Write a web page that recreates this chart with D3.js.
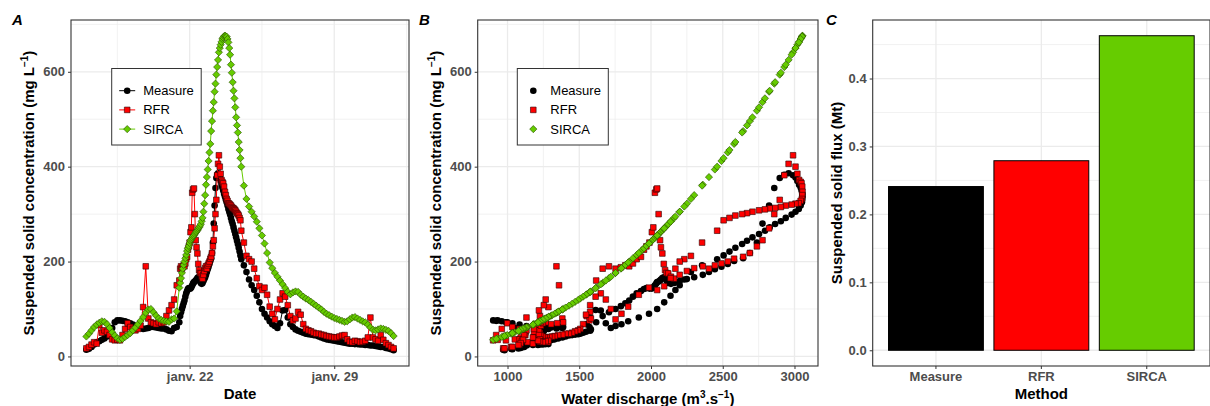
<!DOCTYPE html>
<html>
<head>
<meta charset="utf-8">
<script src="https://cdn.jsdelivr.net/npm/d3@7"></script>
<style>
body { margin: 0; background: #fff; }
</style>
</head>
<body>
<svg id="chart"></svg>
<script>
// sampling: every 3 h from 17 Jan 00:00, hourly around the flood peak (h 108-180), then every 3 h again
var hours = d3.range(0, 108, 3).concat(d3.range(108, 181, 1), d3.range(183, 360, 3));

var measure = [14,16,20,25,30,32,35,38,42,48, 60,72,76,76,75,74,72,70,67,64,
               62,60,58,59,60,62,62,61,60,59, 59,57,54,53,60,62,
               72,85,93,100,106,112,118,126,133,138, 142,144,143,143,146,150,154,157,158,160,
               162,165,167,166,160,155,153,155,159,163, 167,172,178,184,189,195,201,207,218,240,
               280,318,355,376,383,386,382,377,370,362, 356,350,343,337,331,325,318,311,305,299,
               292,285,279,272,265,258,251,244,237,229, 221,213,205,
               192,178,162,150,140,128,114,100,90, 82,74,68,64,60,70,97,98,82,68,
               62,57,54,52,50,48,47,46,45,44, 42,40,38,36,35,34,33,32,31,30,
               29,28,27,27,26,26,25,25,24,24, 23,23,22,21,20,20,18,17,15,13];

var rfr = [17,20,25,30,27,66,50,55,52,45, 36,34,35,34,45,58,70,62,58,55,
           58,65,104,190,80,72,70,68,72,70, 72,85,97,108,120,150,
           160,185,190,185,188,192,190,196,205,210, 225,232,240,262,272,345,352,354,300,245,
           230,217,195,182,176,175,168,164,172,180, 186,190,185,192,196,200,206,210,218,232,
           245,270,300,330,382,406,424,400,385,372, 368,365,358,347,340,332,328,323,322,320,
           318,315,313,312,310,308,305,302,300,297, 292,287,265,
           240,212,205,200,185,165,148,140,145, 130,105,90,78,100,120,133,126,108,85,
           76,80,94,88,68,58,55,53,50,48, 48,46,45,43,42,41,40,40,42,44,
           45,36,31,30,33,32,30,31,33,40, 82,40,36,33,45,35,28,24,20,17];

var sirca = [42,48,55,62,67,71,74,73,68,60, 51,44,38,35,37,41,45,49,55,61,
             68,75,83,92,99,100,93,86,80,77, 75,74,73,78,80,95,
             145,155,165,176,185,193,200,207,214,222, 228,233,239,244,247,250,253,255,258,261,
             263,266,269,272,275,279,285,292,305,322, 340,362,378,394,412,430,448,475,496,518,
             536,558,575,594,610,625,641,650,657,663, 669,672,675,676,675,674,669,662,650,636,
             615,598,578,560,544,525,504,487,472,452, 435,418,400,
             360,332,316,305,295,284,270,255,238, 218,198,186,176,168,160,152,144,136,131,
             135,137,136,130,126,122,119,115,111,107, 103,99,94,90,87,84,81,79,77,75,
             73,74,78,82,83,80,77,74,72,67, 61,56,55,57,59,58,56,54,49,43];

var discharge = [970,1025,1084,1140,1177,1205,1226,1219,1184,1124, 1051,989,931,900,921,960,998,1034,1084,1132,
                 1184,1233,1285,1341,1382,1388,1347,1304,1266,1246, 1233,1226,1219,1253,1266,1359,
                 1618,1663,1707,1753,1790,1821,1848,1874,1900,1930, 1951,1968,1989,2006,2016,2027,2037,2043,2053,2063,
                 2069,2079,2089,2098,2108,2120,2139,2161,2200,2250, 2301,2361,2404,2445,2491,2535,2579,2642,2689,2738,
                 2777,2823,2859,2897,2929,2959,2990,3007,3020,3032, 3043,3049,3054,3056,3054,3052,3043,3030,3007,2980,
                 2939,2905,2865,2827,2794,2753,2707,2669,2635,2588, 2547,2506,2461,
                 2356,2278,2232,2200,2170,2136,2092,2043,1986, 1915,1841,1794,1753,1720,1685,1650,1614,1576,1552,
                 1571,1581,1576,1547,1527,1507,1492,1471,1450,1428, 1405,1382,1353,1329,1311,1292,1273,1260,1246,1233,
                 1219,1226,1253,1279,1285,1266,1246,1226,1212,1177, 1132,1092,1084,1100,1116,1108,1092,1076,1034,979];

var methods = ["Measure", "RFR", "SIRCA"];
var flux = [0.241, 0.279, 0.463];

var dateTicks = ["2018-01-22", "2018-01-29"];
var concTicks = [0, 200, 400, 600];
var qTicks = [1000, 1500, 2000, 2500, 3000];
var fluxTicks = [0, 0.1, 0.2, 0.3, 0.4];

var colors = { Measure: "#000000", RFR: "#ff0000", SIRCA: "#66cc00" };
var FONT = "'Liberation Sans', Arial, sans-serif";

var startTime = new Date(2018, 0, 17, 0, 0);
var times = hours.map(function(h) { return d3.timeHour.offset(startTime, h); });

var fr = d3.timeFormatLocale({
  dateTime: "%A %e %B %Y à %X", date: "%d/%m/%Y", time: "%H:%M:%S", periods: ["AM", "PM"],
  days: ["dimanche","lundi","mardi","mercredi","jeudi","vendredi","samedi"],
  shortDays: ["dim.","lun.","mar.","mer.","jeu.","ven.","sam."],
  months: ["janvier","février","mars","avril","mai","juin","juillet","août","septembre","octobre","novembre","décembre"],
  shortMonths: ["janv.","févr.","mars","avr.","mai","juin","juil.","août","sept.","oct.","nov.","déc."]
});
var frDate = fr.format("%b %d");

var svg = d3.select("#chart").attr("width", 1210).attr("height", 406);
svg.append("rect").attr("width", 1210).attr("height", 406).attr("fill", "#fff");

var pTop = 20, pBottom = 366;

// ggplot style 5% expansion
function padded(ext) {
  var p = (ext[1] - ext[0]) * 0.05;
  return [+ext[0] - p, +ext[1] + p];
}
function mids(ticks) {
  var out = [], step = ticks[1] - ticks[0];
  out.push(ticks[0] - step / 2);
  for (var i = 0; i < ticks.length; i++) out.push(+ticks[i] + step / 2);
  return out;
}

function drawGrid(g, area, xs, ys, xMajor, xMinor, yMajor, yMinor) {
  var inX = function(v) { var p = xs(v); return p > area.left && p < area.right; };
  var inY = function(v) { var p = ys(v); return p > area.top && p < area.bottom; };
  g.selectAll(null).data(yMinor.filter(inY)).enter().append("line")
    .attr("x1", area.left).attr("x2", area.right)
    .attr("y1", ys).attr("y2", ys)
    .attr("stroke", "#ebebeb").attr("stroke-width", 0.7);
  g.selectAll(null).data(xMinor.filter(inX)).enter().append("line")
    .attr("y1", area.top).attr("y2", area.bottom)
    .attr("x1", xs).attr("x2", xs)
    .attr("stroke", "#ebebeb").attr("stroke-width", 0.7);
  g.selectAll(null).data(yMajor).enter().append("line")
    .attr("x1", area.left).attr("x2", area.right)
    .attr("y1", ys).attr("y2", ys)
    .attr("stroke", "#ebebeb").attr("stroke-width", 1.3);
  g.selectAll(null).data(xMajor).enter().append("line")
    .attr("y1", area.top).attr("y2", area.bottom)
    .attr("x1", xs).attr("x2", xs)
    .attr("stroke", "#ebebeb").attr("stroke-width", 1.3);
}

function drawBorder(area) {
  svg.append("rect")
    .attr("x", area.left).attr("y", area.top)
    .attr("width", area.right - area.left).attr("height", area.bottom - area.top)
    .attr("fill", "none").attr("stroke", "#333333").attr("stroke-width", 1.1);
}

function styleAxis(g) {
  g.attr("font-family", FONT).attr("font-size", 13);
  g.select(".domain").remove();
  g.selectAll(".tick line").attr("stroke", "#333333").attr("stroke-width", 1);
  g.selectAll(".tick text").attr("fill", "#4d4d4d").attr("font-weight", "bold");
}

function addParts(t, parts) {
  var raised = false;
  parts.forEach(function(p) {
    if (p.sup) {
      t.append("tspan").attr("dy", raised ? 0 : -6).attr("font-size", 10).text(p.sup);
      raised = true;
    } else {
      t.append("tspan").attr("dy", raised ? 6 : 0).text(p.text);
      raised = false;
    }
  });
}
function yTitle(x, parts) {
  var t = svg.append("text")
    .attr("transform", "translate(" + x + "," + ((pTop + pBottom) / 2) + ") rotate(-90)")
    .attr("text-anchor", "middle").attr("font-family", FONT)
    .attr("font-size", 15).attr("font-weight", "bold").attr("fill", "#000");
  addParts(t, parts);
}
function xTitle(x, y, parts) {
  var t = svg.append("text").attr("x", x).attr("y", y)
    .attr("text-anchor", "middle").attr("font-family", FONT)
    .attr("font-size", 15).attr("font-weight", "bold").attr("fill", "#000");
  addParts(t, parts);
}
function panelLetter(x, s) {
  svg.append("text").attr("x", x).attr("y", 25).attr("font-family", FONT)
    .attr("font-size", 15).attr("font-weight", "bold").attr("font-style", "italic").text(s);
}

var circle = d3.symbol().type(d3.symbolCircle).size(34)();
var square = d3.symbol().type(d3.symbolSquare).size(32)();
var diamond = d3.symbol().type(d3.symbolSquare).size(26)();

function marks(g, pts, kind) {
  var path = kind === "Measure" ? circle : kind === "RFR" ? square : diamond;
  var rot = kind === "SIRCA" ? " rotate(45)" : "";
  var sel = g.selectAll(null).data(pts).enter().append("path")
    .attr("d", path)
    .attr("transform", function(d) { return "translate(" + d[0] + "," + d[1] + ")" + rot; })
    .attr("fill", colors[kind]);
  if (kind === "RFR") sel.attr("stroke", "#2a0000").attr("stroke-width", 0.6);
  if (kind === "SIRCA") sel.attr("stroke", "#2b5200").attr("stroke-width", 0.6);
}

var series = [["Measure", measure], ["RFR", rfr], ["SIRCA", sirca]];
var concDomain = padded([d3.min([d3.min(measure), d3.min(rfr), d3.min(sirca)]),
                         d3.max([d3.max(measure), d3.max(rfr), d3.max(sirca)])]);

// ---------- Panel A : time series ----------
var areaA = { left: 71, right: 409, top: pTop, bottom: pBottom };
var xA = d3.scaleTime().domain(padded(d3.extent(times))).range([areaA.left, areaA.right]);
var yC = d3.scaleLinear().domain(concDomain).range([areaA.bottom, areaA.top]);
var tickDatesA = dateTicks.map(d3.timeParse("%Y-%m-%d"));
var minorDatesA = mids(tickDatesA.map(Number)).map(function(v) { return new Date(v); });

drawGrid(svg.append("g"), areaA, xA, yC, tickDatesA, minorDatesA, concTicks, mids(concTicks));

var gA = svg.append("g");
series.forEach(function(s) {
  var line = d3.line().x(function(d, i) { return xA(times[i]); }).y(function(d) { return yC(d); });
  gA.append("path").datum(s[1]).attr("d", line).attr("fill", "none")
    .attr("stroke", colors[s[0]]).attr("stroke-width", 1);
  marks(gA, s[1].map(function(v, i) { return [xA(times[i]), yC(v)]; }), s[0]);
});
drawBorder(areaA);

svg.append("g").attr("transform", "translate(0," + areaA.bottom + ")")
  .call(d3.axisBottom(xA).tickValues(tickDatesA).tickFormat(frDate).tickSize(3).tickPadding(3))
  .call(styleAxis);
svg.append("g").attr("transform", "translate(" + areaA.left + ",0)")
  .call(d3.axisLeft(yC).tickValues(concTicks).tickSize(3).tickPadding(3))
  .call(styleAxis);

yTitle(34, [{ text: "Suspended solid concentration (mg L" }, { sup: "\u22121" }, { text: ")" }]);
xTitle((areaA.left + areaA.right) / 2, 399, [{ text: "Date" }]);
panelLetter(12, "A");

function legend(x0, withLine) {
  var lg = svg.append("g");
  lg.append("rect").attr("x", x0).attr("y", 68.5).attr("width", withLine ? 89.5 : 91)
    .attr("height", 76.5).attr("fill", "#fff").attr("stroke", "#333333").attr("stroke-width", 1);
  series.forEach(function(s, i) {
    var cy = 90.7 + i * 19.2;
    var kx = withLine ? x0 + 15.5 : x0 + 16;
    if (withLine) {
      lg.append("line").attr("x1", x0 + 7.5).attr("x2", x0 + 23.5).attr("y1", cy).attr("y2", cy)
        .attr("stroke", colors[s[0]]).attr("stroke-width", 1);
    }
    marks(lg, [[kx, cy]], s[0]);
    lg.append("text").attr("x", withLine ? x0 + 31.5 : x0 + 33).attr("y", cy).attr("dy", "0.35em")
      .attr("font-family", FONT).attr("font-size", 13).attr("fill", "#000").text(s[0]);
  });
}
legend(111.7, true);

// ---------- Panel B : concentration vs discharge ----------
var areaB = { left: 477.7, right: 818, top: pTop, bottom: pBottom };
var xB = d3.scaleLinear().domain(padded(d3.extent(discharge))).range([areaB.left, areaB.right]);
var yB = d3.scaleLinear().domain(concDomain).range([areaB.bottom, areaB.top]);

drawGrid(svg.append("g"), areaB, xB, yB, qTicks, mids(qTicks), concTicks, mids(concTicks));
var gB = svg.append("g");
series.forEach(function(s) {
  marks(gB, s[1].map(function(v, i) { return [xB(discharge[i]), yB(v)]; }), s[0]);
});
drawBorder(areaB);

svg.append("g").attr("transform", "translate(0," + areaB.bottom + ")")
  .call(d3.axisBottom(xB).tickValues(qTicks).tickFormat(d3.format("d")).tickSize(3).tickPadding(3))
  .call(styleAxis);
svg.append("g").attr("transform", "translate(" + areaB.left + ",0)")
  .call(d3.axisLeft(yB).tickValues(concTicks).tickSize(3).tickPadding(3))
  .call(styleAxis);

yTitle(441, [{ text: "Suspended solid concentration (mg L" }, { sup: "\u22121" }, { text: ")" }]);
xTitle((areaB.left + areaB.right) / 2, 404, [{ text: "Water discharge (m" }, { sup: "3" }, { text: ".s" }, { sup: "\u22121" }, { text: ")" }]);
panelLetter(419, "B");
legend(517.3, false);

// ---------- Panel C : flux bars ----------
var areaC = { left: 872.7, right: 1210, top: pTop, bottom: pBottom };
var xCb = d3.scaleBand().domain(methods).range([areaC.left, areaC.right])
  .paddingInner(0.1).paddingOuter(0.15);
var yF = d3.scaleLinear().domain(padded([0, d3.max(flux)])).range([areaC.bottom, areaC.top]);
var xCenter = function(m) { return xCb(m) + xCb.bandwidth() / 2; };

drawGrid(svg.append("g"), areaC, xCenter, yF, methods, [], fluxTicks, mids(fluxTicks));
svg.append("g").selectAll("rect").data(methods).enter().append("rect")
  .attr("x", function(m) { return xCb(m); })
  .attr("y", function(m, i) { return yF(flux[i]); })
  .attr("width", xCb.bandwidth())
  .attr("height", function(m, i) { return yF(0) - yF(flux[i]); })
  .attr("fill", function(m) { return colors[m]; })
  .attr("stroke", "#000").attr("stroke-width", 1);
drawBorder(areaC);

svg.append("g").attr("transform", "translate(0," + areaC.bottom + ")")
  .call(d3.axisBottom(xCb).tickSize(3).tickPadding(3))
  .call(styleAxis);
svg.append("g").attr("transform", "translate(" + areaC.left + ",0)")
  .call(d3.axisLeft(yF).tickValues(fluxTicks).tickFormat(d3.format(".1f")).tickSize(3).tickPadding(3))
  .call(styleAxis);

yTitle(842, [{ text: "Suspended solid flux (Mt)" }]);
xTitle((areaC.left + areaC.right) / 2, 399, [{ text: "Method" }]);
panelLetter(826, "C");
</script>
</body>
</html>
